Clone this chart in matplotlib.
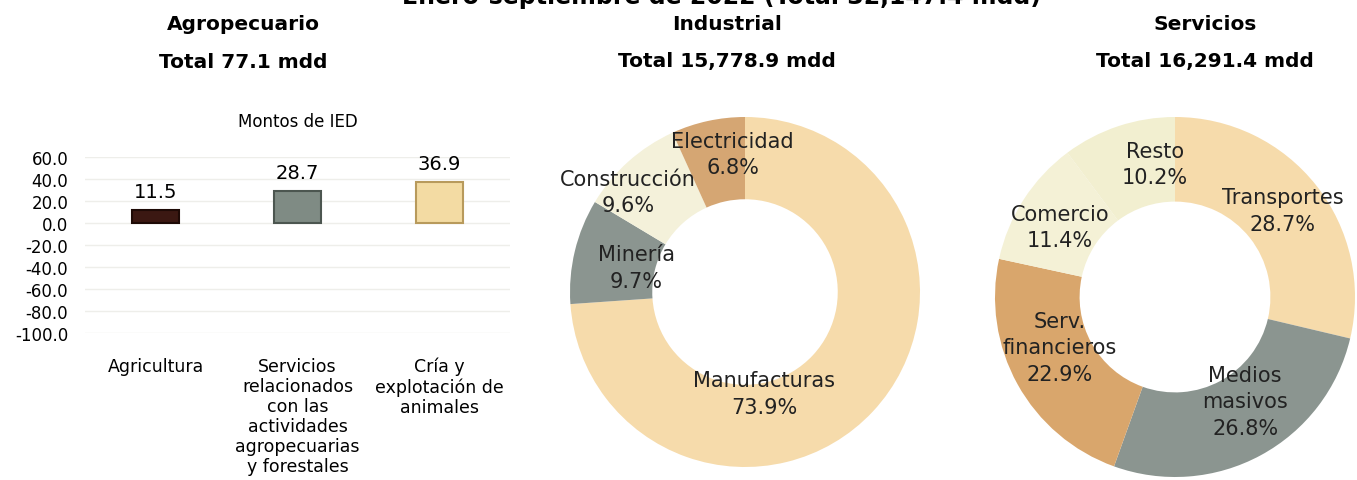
import matplotlib
matplotlib.use("Agg")
import matplotlib.pyplot as plt

# --- data -------------------------------------------------------------
agro_cats = ["Agricultura",
             "Servicios\nrelacionados\ncon las\nactividades\nagropecuarias\ny forestales",
             "Cría y\nexplotación de\nanimales"]
agro_vals = [11.5, 28.7, 36.9]
agro_colors = ["#3b1812", "#7f8b84", "#f3dba3"]
agro_edges = ["#1e0a06", "#4c5650", "#b89a5c"]
agro_yticks = [60, 40, 20, 0, -20, -40, -60, -80, -100]

ind_names = ["Manufacturas", "Minería", "Construcción", "Electricidad"]
ind_pcts = [73.9, 9.7, 9.6, 6.8]
ind_colors = ["#f6dbab", "#8b9590", "#f4f1da", "#d5a673"]

serv_names = ["Transportes", "Medios\nmasivos", "Serv.\nfinancieros", "Comercio", "Resto"]
serv_pcts = [28.7, 26.8, 22.9, 11.4, 10.2]
serv_colors = ["#f6dbab", "#8b9590", "#d9a66c", "#f4f1d6", "#f2efd0"]

# label positions inside each donut (in units of the outer radius)
ind_label_pos = [(0.11, -0.58), (-0.62, 0.14), (-0.67, 0.57), (-0.07, 0.79)]
serv_label_pos = [(0.60, 0.48), (0.39, -0.58), (-0.64, -0.28), (-0.64, 0.39), (-0.11, 0.74)]

plt.rcParams['font.family'] = ['DejaVu Sans']

W, H = 1357, 481
fig = plt.figure(figsize=(W / 100, H / 100), dpi=100)


def rect(x0, y0, x1, y1):
    # pixel box (top-left origin) -> figure fraction
    return [x0 / W, 1 - y1 / H, (x1 - x0) / W, (y1 - y0) / H]


# --- headings ---------------------------------------------------------
# the overall title is cut by the top edge in the original
fig.text(722 / W, 1 - 4 / H, "Enero-septiembre de 2022 (Total 32,147.4 mdd)",
         ha="center", va="baseline", fontsize=17, fontweight="bold")
heads = [(243, "Agropecuario", "Total 77.1 mdd"),
         (727, "Industrial", "Total 15,778.9 mdd"),
         (1205, "Servicios", "Total 16,291.4 mdd")]
for x, t1, t2 in heads:
    fig.text(x / W, 1 - 25 / H, t1, ha="center", va="center", fontsize=14.5, fontweight="bold")
    fig.text(x / W, 1 - 62 / H, t2, ha="center", va="center", fontsize=14.5, fontweight="bold")

# --- bar chart --------------------------------------------------------
ax = fig.add_axes(rect(85, 158, 510, 334))
xs = range(len(agro_vals))
bars = ax.bar(xs, agro_vals, width=0.33, color=agro_colors, edgecolor=agro_edges,
              linewidth=1.5, zorder=3)
for b, v in zip(bars, agro_vals):
    ax.annotate(f"{v:.1f}", (b.get_x() + b.get_width() / 2, v), xytext=(0, 7),
                textcoords="offset points", ha="center", va="bottom", fontsize=14)
ax.set_ylim(-100, 60)
ax.set_xlim(-0.5, 2.5)
ax.set_yticks(agro_yticks)
ax.set_yticklabels([f"{t:.1f}" for t in agro_yticks], fontsize=12)
ax.set_xticks(list(xs))
ax.set_xticklabels(agro_cats, fontsize=12.5, linespacing=1.15, va="top")
ax.tick_params(length=0, pad=12)
ax.tick_params(axis="x", pad=17)
ax.grid(axis="y", color="#eeeeea", linewidth=1, zorder=0)
for s in ax.spines.values():
    s.set_visible(False)
ax.set_title("Montos de IED", fontsize=12, pad=22)


# --- donuts -----------------------------------------------------------
def donut(box, pcts, colors, names, positions):
    a = fig.add_axes(box)
    a.pie(pcts, colors=colors, startangle=90, counterclock=False, radius=1,
          wedgeprops=dict(width=0.47, edgecolor="none"))
    for name, p, (lx, ly) in zip(names, pcts, positions):
        a.text(lx, ly, f"{name}\n{p:.1f}%", ha="center", va="center",
               fontsize=15, linespacing=1.4, color="#222222")
    a.set_xlim(-1, 1)
    a.set_ylim(-1, 1)
    a.set_aspect("equal")
    a.axis("off")


donut(rect(570, 118, 920, 468), ind_pcts, ind_colors, ind_names, ind_label_pos)
donut(rect(995, 118, 1355, 478), serv_pcts, serv_colors, serv_names, serv_label_pos)

fig.savefig("out.png", dpi=100)
